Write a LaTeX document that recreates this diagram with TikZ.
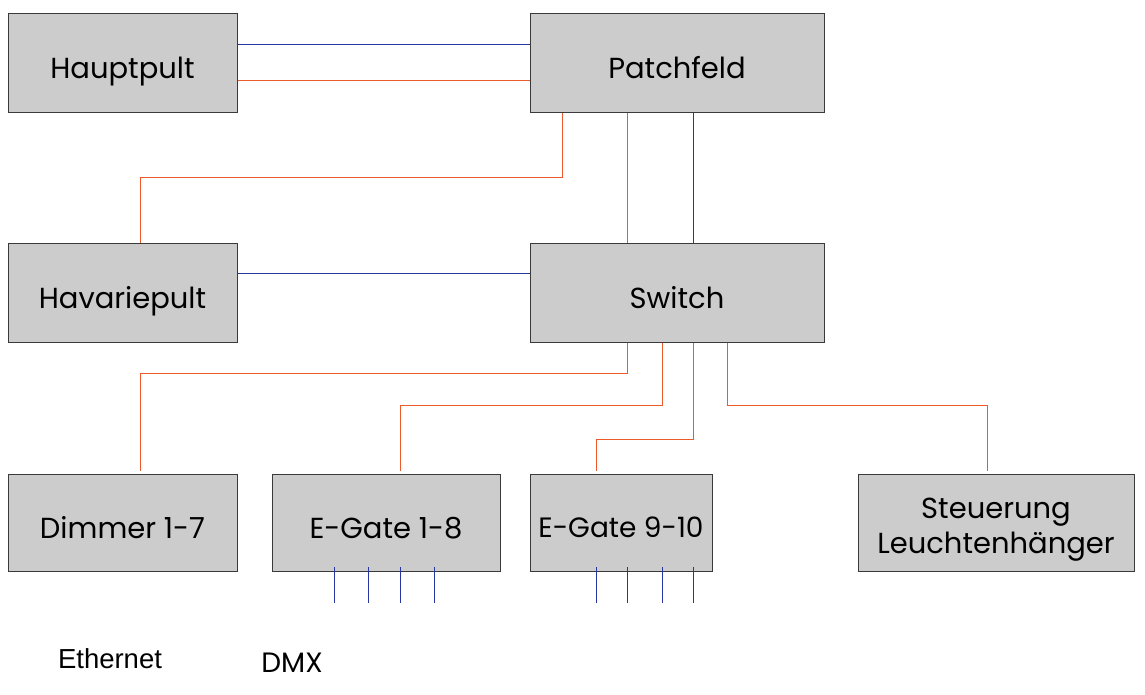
\documentclass[tikz,border=0pt]{standalone}
\usepackage{fontspec}
\setmainfont{Poppins}
\newfontfamily\arialfont{Liberation Sans}
\definecolor{boxfill}{HTML}{CCCCCC}
\definecolor{boxline}{HTML}{3A3A3A}
\definecolor{ethcol}{HTML}{EC5A2C}
\definecolor{dmxcol}{HTML}{2636A2}
\tikzset{
  device/.style={draw=boxline, fill=boxfill, line width=1pt, inner sep=0pt,
    font=\fontsize{29}{35}\selectfont, align=center,
    text height=31pt, text depth=0pt},
  eth/.style={draw=ethcol, line width=0.9pt},
  dmx/.style={draw=dmxcol, line width=1pt},
}
\begin{document}
\begin{tikzpicture}[x=1pt, y=-1pt]
\useasboundingbox (0,0) rectangle (1145,695);

% devices
\node[device, minimum width=229pt, minimum height=99pt] (hp) at (122.5,63.5) {Hauptpult};
\node[device, minimum width=294pt, minimum height=99pt] (pf) at (677,63.5) {Patchfeld};
\node[device, minimum width=229pt, minimum height=99pt] (hv) at (122.5,292.5) {Havariepult};
\node[device, minimum width=294pt, minimum height=99pt] (sw) at (677,292.5) {Switch};
\node[device, minimum width=229pt, minimum height=97pt] (dim) at (122.5,522.5) {Dimmer 1-7};
\node[device, minimum width=228pt, minimum height=97pt] (eg1) at (386,522.5) {E-Gate 1-8};
\node[device, minimum width=182pt, minimum height=97pt, font=\fontsize{28}{34}\selectfont,
  text height=30.5pt] (eg2) at (621,522.5) {E-Gate 9-10};
\node[device, minimum width=276pt, minimum height=97pt, text height=61pt] (stl) at (996,522.5) {Steuerung\\Leuchtenhänger};

% bend points
\coordinate (k1) at (140,177);
\coordinate (k2) at (140,373);
\coordinate (k3) at (400,405);
\coordinate (k4) at (596,439);
\coordinate (k5) at (987,405);

% console links
\draw[dmx] (hp.east |- 0,45) -- (pf.west |- 0,45);
\draw[eth] (hp.east |- 0,80) -- (pf.west |- 0,80);
\draw[dmx] (hv.east |- 0,273) -- (sw.west |- 0,273);
\draw[eth] (pf.south -| 562,0) |- (k1) -- (hv.north -| k1);

% patch panel to switch
\draw[eth] (pf.south -| 627,0) -- (sw.north -| 627,0);
\draw[dmx] (pf.south -| 693,0) -- (sw.north -| 693,0);

% switch to nodes
\draw[eth, shorten >=3pt] (sw.south -| 627,0) |- (k2) -- (dim.north -| k2);
\draw[eth, shorten >=3pt] (sw.south -| 662,0) |- (k3) -- (eg1.north -| k3);
\draw[eth, shorten >=3pt] (sw.south -| 693,0) |- (k4) -- (eg2.north -| k4);
\draw[eth, shorten >=3pt] (sw.south -| 727,0) |- (k5) -- (stl.north -| k5);

% DMX outputs
\foreach \x in {334,368,400,434,596,627,662,693}
  \draw[dmx] (\x,567) -- (\x,603);

% legend
\node[font=\arialfont\fontsize{27.5}{32}\selectfont] (leth) at (110,659) {Ethernet};
\node[font=\fontsize{28}{32}\selectfont] (ldmx) at (292,663) {DMX};
\end{tikzpicture}
\end{document}
